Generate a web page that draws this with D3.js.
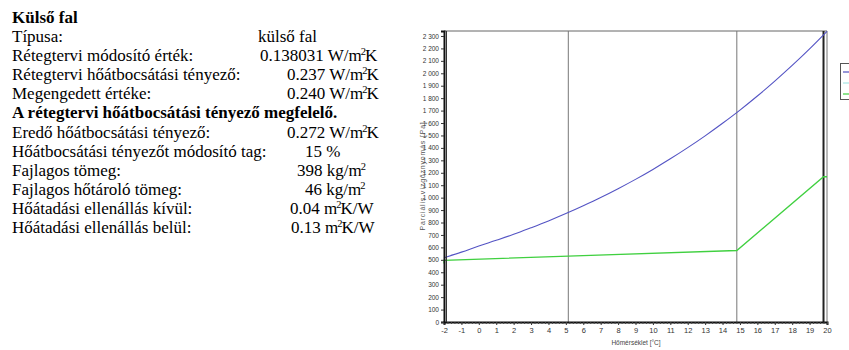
<!DOCTYPE html>
<html><head><meta charset="utf-8">
<script src="https://cdn.jsdelivr.net/npm/d3@7/dist/d3.min.js"></script>
<style>body{margin:0;background:#fff;}svg{display:block;}</style>
</head><body>
<svg id="c" width="849" height="350"></svg>
<script>
// ---- data ----
const infoLabels = ["Típusa:", "Rétegtervi módosító érték:", "Rétegtervi hőátbocsátási tényező:", "Megengedett értéke:",
  "A rétegtervi hőátbocsátási tényező megfelelő.", "Eredő hőátbocsátási tényező:", "Hőátbocsátási tényezőt módosító tag:",
  "Fajlagos tömeg:", "Fajlagos hőtároló tömeg:", "Hőátadási ellenállás kívül:", "Hőátadási ellenállás belül:"];
const infoValues = ["külső fal", "0.138031 W/m^2K", "0.237 W/m^2K", "0.240 W/m^2K", "", "0.272 W/m^2K", "15 %",
  "398 kg/m^2", "46 kg/m^2", "0.04 m^2K/W", "0.13 m^2K/W"];
const infoBold = [false, false, false, false, true, false, false, false, false, false, false];
const title = "Külső fal";

const tempX = [-2,-1,0,1,2,3,4,5,6,7,8,9,10,11,12,13,14,15,16,17,18,19,20];
const saturation = [517,562,611,657,705,758,813,872,935,1001,1072,1147,1227,1312,1402,1497,1598,1704,1817,1937,2063,2196,2337];
const partialX = [-2, -2, 5.14, 14.82, 19.8, 20];
const partial = [470, 495, 530, 575, 1168, 1168];
const boundaries = [5.14, 14.82];
const innerEdge = 19.8;
const xTicks = d3.range(-2, 21, 1);
const yTicks = d3.range(0, 2301, 100);
const xTitle = "Hőmérséklet [°C]";
const yTitle = "Parciális vízgőznyomás [Pa]";
const legendColors = ["#5050c0", "#a8e4e4", "#40d040"];

// ---- layout ----
const valueX = [258, 260, 287, 287, 0, 287, 305, 297, 305, 290, 291];
const svg = d3.select("#c");

// text block
const serif = "'Liberation Serif','Times New Roman',serif";
svg.append("text").attr("x", 12).attr("y", 23).attr("font-family", serif).attr("font-size", 17)
  .attr("font-weight", "bold").text(title);
function addRich(sel, str) {
  const parts = str.split("^2");
  parts.forEach((p, i) => {
    if (i > 0) sel.append("tspan").attr("font-size", 10.5).attr("dy", -6).attr("dx", -1).text("2");
    if (p.length) {
      const t = sel.append("tspan").text(p);
      if (i > 0) t.attr("dy", 6).attr("dx", -1);
    }
  });
}
infoLabels.forEach((lab, i) => {
  const y = 42 + i * 19.1;
  svg.append("text").attr("x", 12).attr("y", y).attr("font-family", serif).attr("font-size", 17)
    .attr("font-weight", infoBold[i] ? "bold" : "normal").text(lab);
  if (infoValues[i]) {
    const t = svg.append("text").attr("x", valueX[i]).attr("y", y).attr("font-family", serif).attr("font-size", 17);
    addRich(t, infoValues[i]);
  }
});

// chart
const x = d3.scaleLinear().domain([-2, 20]).range([444, 827]);
const y = d3.scaleLinear().domain([0, 2340]).range([322, 31]);
const narrow = "'Liberation Sans Narrow','Arial Narrow','Liberation Sans',sans-serif";

// frame
svg.append("line").attr("x1", x(-2)).attr("x2", x(20)).attr("y1", y(2340)).attr("y2", y(2340)).attr("stroke", "#666").attr("stroke-width", 1);
svg.append("line").attr("x1", x(20)).attr("x2", x(20)).attr("y1", y(2340)).attr("y2", y(0)).attr("stroke", "#777").attr("stroke-width", 1);
boundaries.forEach(b => svg.append("line").attr("x1", x(b)).attr("x2", x(b)).attr("y1", y(2340)).attr("y2", y(0))
  .attr("stroke", "#777").attr("stroke-width", 1));
svg.append("line").attr("x1", x(innerEdge)).attr("x2", x(innerEdge)).attr("y1", y(2340)).attr("y2", y(0))
  .attr("stroke", "#222").attr("stroke-width", 2);

// lines
const line = d3.line().x(d => x(d[0])).y(d => y(d[1]));
svg.append("path").datum(partialX.map((v, i) => [v, partial[i]])).attr("d", line)
  .attr("fill", "none").attr("stroke", "#40d040").attr("stroke-width", 1.3);
svg.append("path").datum(tempX.map((v, i) => [v, saturation[i]])).attr("d", d3.line().curve(d3.curveMonotoneX).x(d => x(d[0])).y(d => y(d[1])))
  .attr("fill", "none").attr("stroke", "#5454c4").attr("stroke-width", 1.1);

// axes
const xAxis = svg.append("g").attr("transform", `translate(0,${y(0)})`)
  .call(d3.axisBottom(x).tickValues(xTicks).tickFormat(d => String(d)).tickSize(3).tickPadding(3));
const minor = svg.append("g").attr("transform", `translate(0,${y(0)})`)
  .call(d3.axisBottom(x).tickValues(d3.range(-2, 20.01, 0.2)).tickFormat("").tickSize(2));
minor.select(".domain").remove();
minor.selectAll("line").attr("stroke", "#444");
xAxis.select(".domain").attr("stroke", "#111").attr("stroke-width", 2);
xAxis.selectAll("text").attr("font-family", narrow).attr("font-size", 7.5).attr("fill", "#333");
xAxis.selectAll("line").attr("stroke", "#333");

const yAxis = svg.append("g").attr("transform", `translate(${x(-2)},0)`)
  .call(d3.axisLeft(y).tickValues(yTicks).tickFormat(d => d >= 1000 ? String(d).replace(/^(\d)/, "$1 ") : d).tickSize(3).tickPadding(2));
yAxis.select(".domain").attr("stroke", "#111").attr("stroke-width", 2);
yAxis.selectAll("text").attr("font-family", narrow).attr("font-size", 6.5).attr("fill", "#333");
yAxis.selectAll("line").attr("stroke", "#333");
svg.append("line").attr("x1", x(-2) + 2.5).attr("x2", x(-2) + 2.5).attr("y1", y(2340)).attr("y2", y(0)).attr("stroke", "#333").attr("stroke-width", 1);

// titles
svg.append("text").attr("x", 636).attr("y", 345).attr("text-anchor", "middle").attr("font-family", narrow)
  .attr("font-size", 6.5).attr("fill", "#444").text(xTitle);
svg.append("text").attr("transform", "translate(425,176) rotate(-90)").attr("text-anchor", "middle").attr("font-family", narrow)
  .attr("font-size", 7).attr("letter-spacing", 0.8).attr("fill", "#555").text(yTitle);

// legend (clipped at window edge)
svg.append("rect").attr("x", 840.5).attr("y", 63.5).attr("width", 20).attr("height", 36).attr("fill", "#fff")
  .attr("stroke", "#555").attr("stroke-width", 1);
legendColors.forEach((c, i) => svg.append("line").attr("x1", 843).attr("x2", 849).attr("y1", 72 + i * 11).attr("y2", 72 + i * 11)
  .attr("stroke", c).attr("stroke-width", 1.2));
</script>
</body></html>
